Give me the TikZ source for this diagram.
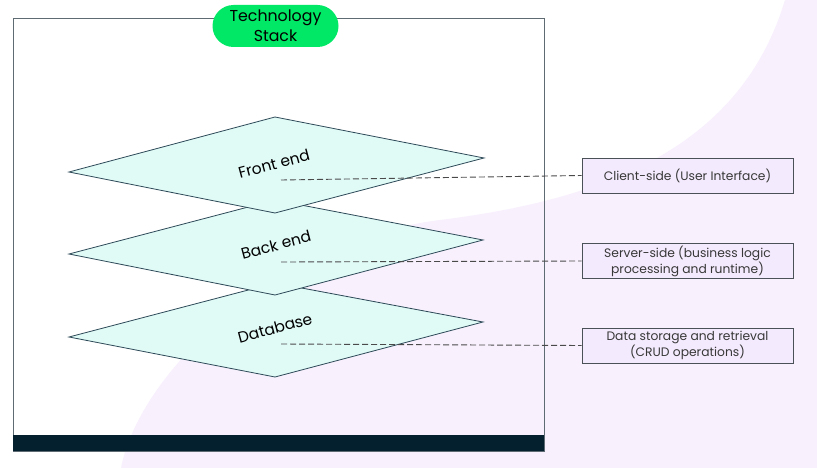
\documentclass[tikz,border=0pt]{standalone}
\usepackage{fontspec}
\setmainfont{Poppins}
\definecolor{lav}{HTML}{F8F0FD}
\definecolor{mint}{HTML}{E0FAF6}
\definecolor{slate}{HTML}{2E4A58}
\definecolor{framec}{HTML}{5F6B73}
\definecolor{darkbar}{HTML}{04202E}
\definecolor{pillg}{HTML}{00E865}
\definecolor{boxf}{HTML}{F4EAFD}
\definecolor{boxd}{HTML}{4A5258}
\definecolor{dashc}{HTML}{4A4A4A}
\begin{document}
\begin{tikzpicture}[x=1pt,y=-1pt,
  layer/.style={fill=mint,draw=slate,line width=0.8pt,line join=miter},
  lbl/.style={font=\fontsize{15.5}{18}\selectfont,rotate=15,inner sep=0pt},
  descbox/.style={draw=boxd,fill=boxf,line width=0.8pt,minimum width=211pt,minimum height=35pt,
    align=center,text=black!78,font=\fontsize{12.3}{16}\selectfont,inner sep=0pt},
  conn/.style={draw=dashc,line width=0.9pt,dash pattern=on 6pt off 3pt}]
\useasboundingbox (0,0) rectangle (817,468);
\fill[white] (0,0) rectangle (817,468);
% background blob
\fill[lav] (785,0) .. controls (740,150) and (600,200) .. (440,220)
  .. controls (280,240) and (140,370) .. (121,468) -- (817,468) -- (817,0) -- cycle;
% frame
\draw[framec,line width=1pt] (13,19) rectangle (544,451);
\fill[darkbar] (13,435) rectangle (544,451);
% title
\node[fill=pillg,rounded corners=21pt,minimum width=126pt,minimum height=42pt,inner sep=0pt,
  align=center,font=\fontsize{15.8}{20}\selectfont] (title) at (275.5,26) {Technology\\Stack};
% layers (bottom first)
\draw[layer] (69,337) -- (275,283) -- (483,322) -- (275,377) -- cycle;
\node[lbl] (db) at (275,328) {Database};
\coordinate (dbs) at (281,344);
\draw[layer] (69,254) -- (275,200) -- (483,240) -- (275,295) -- cycle;
\node[lbl] (be) at (276,245) {Back end};
\coordinate (bes) at (281,262);
\draw[layer] (69,172) -- (275,117) -- (484,158) -- (275,213) -- cycle;
\node[lbl] (fe) at (274,164) {Front end};
\coordinate (fes) at (281,180);
% description boxes
\node[descbox] (client) at (687.5,175.5) {Client-side (User Interface)};
\node[descbox] (server) at (687.5,261) {Server-side (business logic\\processing and runtime)};
\node[descbox] (data) at (687.5,345.5) {Data storage and retrieval\\(CRUD operations)};
% connectors
\draw[conn] (fes) -- (client.west);
\draw[conn] (bes) -- (server.west);
\draw[conn] (dbs) -- (data.west);
\end{tikzpicture}
\end{document}
